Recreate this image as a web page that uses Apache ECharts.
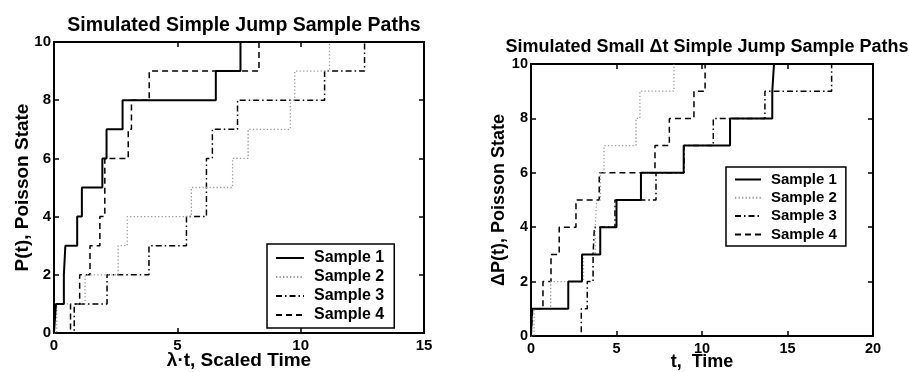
<!DOCTYPE html>
<html>
<head>
<meta charset="utf-8">
<script src="https://cdn.jsdelivr.net/npm/echarts@6/dist/echarts.min.js"></script>
<style>
html,body{margin:0;padding:0;background:#fff;}
#chart{width:909px;height:372px;}
</style>
</head>
<body>
<div id="chart"></div>
<script>
// ---- data ----
var sampleNames = ['Sample 1', 'Sample 2', 'Sample 3', 'Sample 4'];
var states = [0, 1, 2, 3, 4, 5, 6, 7, 8, 9, 10];

// Left panel: jump times in scaled time (lambda*t)
var leftJumps1 = [0.08, 0.40, 0.46, 0.94, 1.13, 1.96, 2.13, 2.78, 6.56, 7.56];
var leftJumps2 = [0.11, 1.26, 2.60, 2.97, 5.57, 7.24, 7.87, 9.58, 9.76, 11.17];
var leftJumps3 = [0.82, 2.15, 3.85, 5.37, 6.18, 6.18, 6.42, 7.44, 10.97, 12.59];
var leftJumps4 = [0.67, 1.04, 1.46, 1.86, 2.06, 2.06, 3.01, 3.14, 3.86, 8.31];

// Right panel: jump times in time t
var rightJumps1 = [0.06, 2.18, 2.98, 4.05, 5.00, 6.43, 8.93, 11.64, 14.11, 14.21];
var rightJumps2 = [0.18, 1.15, 3.07, 3.76, 3.84, 4.06, 4.27, 6.14, 6.37, 8.36];
var rightJumps3 = [2.94, 3.29, 3.63, 3.71, 4.91, 7.31, 8.95, 10.66, 13.68, 17.58];
var rightJumps4 = [0.10, 0.70, 1.17, 1.65, 2.63, 3.99, 7.25, 8.09, 9.53, 10.18];

var leftXTicks = [0, 5, 10, 15];
var rightXTicks = [0, 5, 10, 15, 20];
var yTicks = [0, 2, 4, 6, 8, 10];

// ---- build step paths: start at (0, 0), then (jump_k, k) ----
function path(jumps) {
  var pts = [[0, states[0]]];
  for (var i = 0; i < jumps.length; i++) pts.push([jumps[i], states[i + 1]]);
  return pts;
}

var styles = [
  { color: '#000', width: 2, type: 'solid' },
  { color: '#9a9a9a', width: 1.3, type: [1.3, 2.2] },
  { color: '#000', width: 1.5, type: [6, 3, 1.5, 3] },
  { color: '#000', width: 1.5, type: [6, 4] }
];

var FONT = '"Liberation Sans", Arial, Helvetica, sans-serif';

function mkSeries(name, jumps, k, xi, yi) {
  return {
    name: name, type: 'line', step: 'end', data: path(jumps),
    xAxisIndex: xi, yAxisIndex: yi, symbol: 'none', showSymbol: false,
    clip: true, animation: false, z: 10 - k,
    lineStyle: { color: styles[k].color, width: styles[k].width, type: styles[k].type },
    itemStyle: { color: styles[k].color }
  };
}

function xAx(gi, ticks, pos, show, name, fs, nameFs, gap) {
  return {
    type: 'value', gridIndex: gi, position: pos,
    min: ticks[0], max: ticks[ticks.length - 1], interval: ticks[1] - ticks[0],
    splitLine: { show: false },
    axisLine: { show: true, onZero: false, lineStyle: { color: '#000', width: 2 } },
    axisTick: { show: true, inside: true, length: 5, lineStyle: { color: '#000', width: 1.5 } },
    axisLabel: { show: show, color: '#000', fontWeight: 'bold', fontSize: fs, fontFamily: FONT, margin: 5 },
    name: show ? name : '', nameLocation: 'middle', nameGap: gap, nameMoveOverlap: false,
    nameTextStyle: { color: '#000', fontWeight: 'bold', fontSize: nameFs, fontFamily: FONT }
  };
}
function yAx(gi, pos, show, name, fs, nameFs, gap) {
  return {
    type: 'value', gridIndex: gi, position: pos,
    min: yTicks[0], max: yTicks[yTicks.length - 1], interval: yTicks[1] - yTicks[0],
    splitLine: { show: false },
    axisLine: { show: true, onZero: false, lineStyle: { color: '#000', width: 2 } },
    axisTick: { show: true, inside: true, length: 5, lineStyle: { color: '#000', width: 1.5 } },
    axisLabel: { show: show, color: '#000', fontWeight: 'bold', fontSize: fs, fontFamily: FONT, margin: 3 },
    name: show ? name : '', nameLocation: 'middle', nameGap: gap, nameRotate: 90, nameMoveOverlap: false,
    nameTextStyle: { color: '#000', fontWeight: 'bold', fontSize: nameFs, fontFamily: FONT }
  };
}

function legend(left, top, fs, iw, ih, gap, pad) {
  return {
    data: sampleNames, orient: 'vertical', left: left, top: top,
    itemWidth: iw, itemHeight: ih, itemGap: gap, padding: pad,
    backgroundColor: '#fff', borderColor: '#000', borderWidth: 1.5,
    selectedMode: false,
    itemStyle: { opacity: 0, color: 'transparent', borderWidth: 0 },
    textStyle: { color: '#000', fontWeight: 'bold', fontSize: fs, lineHeight: ih, fontFamily: FONT, padding: [0, 0, 0, 5] }
  };
}

var series = [
  mkSeries(sampleNames[0], leftJumps1, 0, 0, 0),
  mkSeries(sampleNames[1], leftJumps2, 1, 0, 0),
  mkSeries(sampleNames[2], leftJumps3, 2, 0, 0),
  mkSeries(sampleNames[3], leftJumps4, 3, 0, 0),
  mkSeries(sampleNames[0], rightJumps1, 0, 2, 2),
  mkSeries(sampleNames[1], rightJumps2, 1, 2, 2),
  mkSeries(sampleNames[2], rightJumps3, 2, 2, 2),
  mkSeries(sampleNames[3], rightJumps4, 3, 2, 2)
];

var option = {
  animation: false,
  backgroundColor: '#fff',
  title: [
    { text: 'Simulated Simple Jump Sample Paths', left: 239, top: 11, textAlign: 'center',
      textStyle: { color: '#000', fontWeight: 'bold', fontSize: 19.5, fontFamily: FONT } },
    { text: 'Simulated Small \u0394t Simple Jump Sample Paths', left: 702, top: 33, textAlign: 'center',
      textStyle: { color: '#000', fontWeight: 'bold', fontSize: 18, fontFamily: FONT } }
  ],
  grid: [
    { left: 54, right: 485, top: 42, bottom: 39, containLabel: false, outerBoundsMode: 'none' },
    { left: 531, right: 36, top: 64, bottom: 36, containLabel: false, outerBoundsMode: 'none' }
  ],
  xAxis: [
    xAx(0, leftXTicks, 'bottom', true, '\u03bb\u00b7t, Scaled Time', 15, 19, 18),
    xAx(0, leftXTicks, 'top', false, '', 15, 19, 18),
    xAx(1, rightXTicks, 'bottom', true, 't,  Time', 14.5, 18, 17),
    xAx(1, rightXTicks, 'top', false, '', 14.5, 18, 17)
  ],
  yAxis: [
    yAx(0, 'left', true, 'P(t), Poisson State', 15, 19, 22),
    yAx(0, 'right', false, '', 15, 19, 22),
    yAx(1, 'left', true, '\u0394P(t), Poisson State', 14.5, 18, 23),
    yAx(1, 'right', false, '', 14.5, 18, 23)
  ],
  legend: [
    legend(267, 244, 16, 28, 14, 3, [6, 10, 5, 8]),
    legend(726, 167, 15, 26, 13, 3.3, [5, 9, 4, 8])
  ],
  series: series
};

var chart = echarts.init(document.getElementById('chart'), null, { renderer: 'canvas' });
chart.setOption(option);
</script>
</body>
</html>
